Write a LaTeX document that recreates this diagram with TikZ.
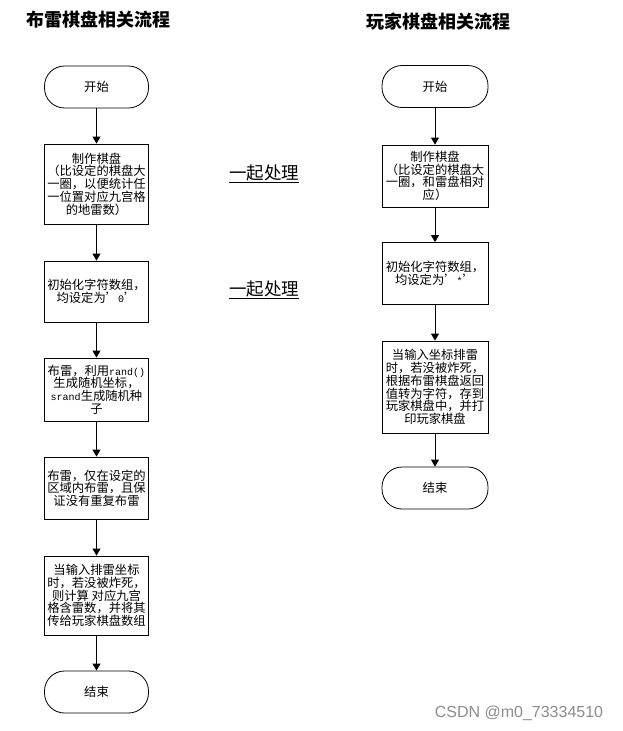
\documentclass[tikz,border=0pt]{standalone}
\usepackage{fontspec}
\setmainfont{Noto Sans CJK SC}
\setmonofont{Liberation Mono}
\newfontfamily\wmfont{Liberation Sans}
\usetikzlibrary{arrows.meta}
\begin{document}
\begin{tikzpicture}[x=1pt,y=-1pt,
  box/.style={draw, line width=0.8pt, minimum width=104pt, align=center,
    inner sep=2pt, font=\fontsize{12.3}{12.7}\selectfont},
  term/.style={box, rounded corners=20pt, minimum height=42pt},
  arr/.style={-{Triangle[length=7pt,width=8pt]}, line width=0.8pt},
  title/.style={font=\fontsize{18}{20}\selectfont\bfseries, inner sep=0pt},
  note/.style={font=\fontsize{17.5}{20}\selectfont, inner sep=0pt}]
\useasboundingbox (0,0) rectangle (622,731);
\newcommand{\mytt}[1]{{\ttfamily\fontsize{10}{12}\selectfont #1}}

% titles
\node[title] (t1) at (98,20) {布雷棋盘相关流程};
\node[title] (t2) at (438,22) {玩家棋盘相关流程};

% left column
\node[term] (l0) at (96.5,87) {开始};
\node[box, minimum height=80pt] (l1) at (96.5,184) {制作棋盘\\（比设定的棋盘大\\一圈，以便统计任\\一位置对应九宫格\\的地雷数）};
\node[box, minimum height=61pt] (l2) at (96.5,291.5) {初始化字符数组，\\均设定为’\mytt{0}’};
\node[box, minimum height=63pt] (l3) at (96.5,389.5) {布雷，利用\mytt{rand()}\\生成随机坐标，\\\mytt{srand}生成随机种\\子};
\node[box, minimum height=62pt] (l4) at (96.5,488) {布雷，仅在设定的\\区域内布雷，且保\\证没有重复布雷};
\node[box, minimum height=79pt] (l5) at (96.5,595.5) {当输入排雷坐标\\时，若没被炸死，\\则计算 对应九宫\\格含雷数，并将其\\传给玩家棋盘数组};
\node[term] (l6) at (96.5,692) {结束};

\draw[arr] (l0) -- (l1);
\draw[arr] (l1) -- (l2);
\draw[arr] (l2) -- (l3);
\draw[arr] (l3) -- (l4);
\draw[arr] (l4) -- (l5);
\draw[arr] (l5) -- (l6);

% right column
\node[term, minimum width=106pt] (r0) at (435,86.5) {开始};
\node[box, minimum width=106pt, minimum height=62pt] (r1) at (435,176) {制作棋盘\\（比设定的棋盘大\\一圈，和雷盘相对\\应）};
\node[box, minimum width=106pt, minimum height=62pt] (r2) at (435,273.5) {初始化字符数组，\\均设定为’\mytt{*}’};
\node[box, minimum width=106pt, minimum height=92pt] (r3) at (435,387) {当输入坐标排雷\\时，若没被炸死，\\根据布雷棋盘返回\\值转为字符，存到\\玩家棋盘中，并打\\印玩家棋盘};
\node[term, minimum width=106pt] (r4) at (435,488) {结束};

\draw[arr] (r0) -- (r1);
\draw[arr] (r1) -- (r2);
\draw[arr] (r2) -- (r3);
\draw[arr] (r3) -- (r4);

% notes
\node[note] (n1) at (264,174) {\underline{一起处理}};
\node[note] (n2) at (264,290) {\underline{一起处理}};

% watermark
\node[font=\wmfont\fontsize{16}{18}\selectfont, text=black!45, inner sep=0pt] (wm) at (519,713) {CSDN @m0\_73334510};
\end{tikzpicture}
\end{document}
